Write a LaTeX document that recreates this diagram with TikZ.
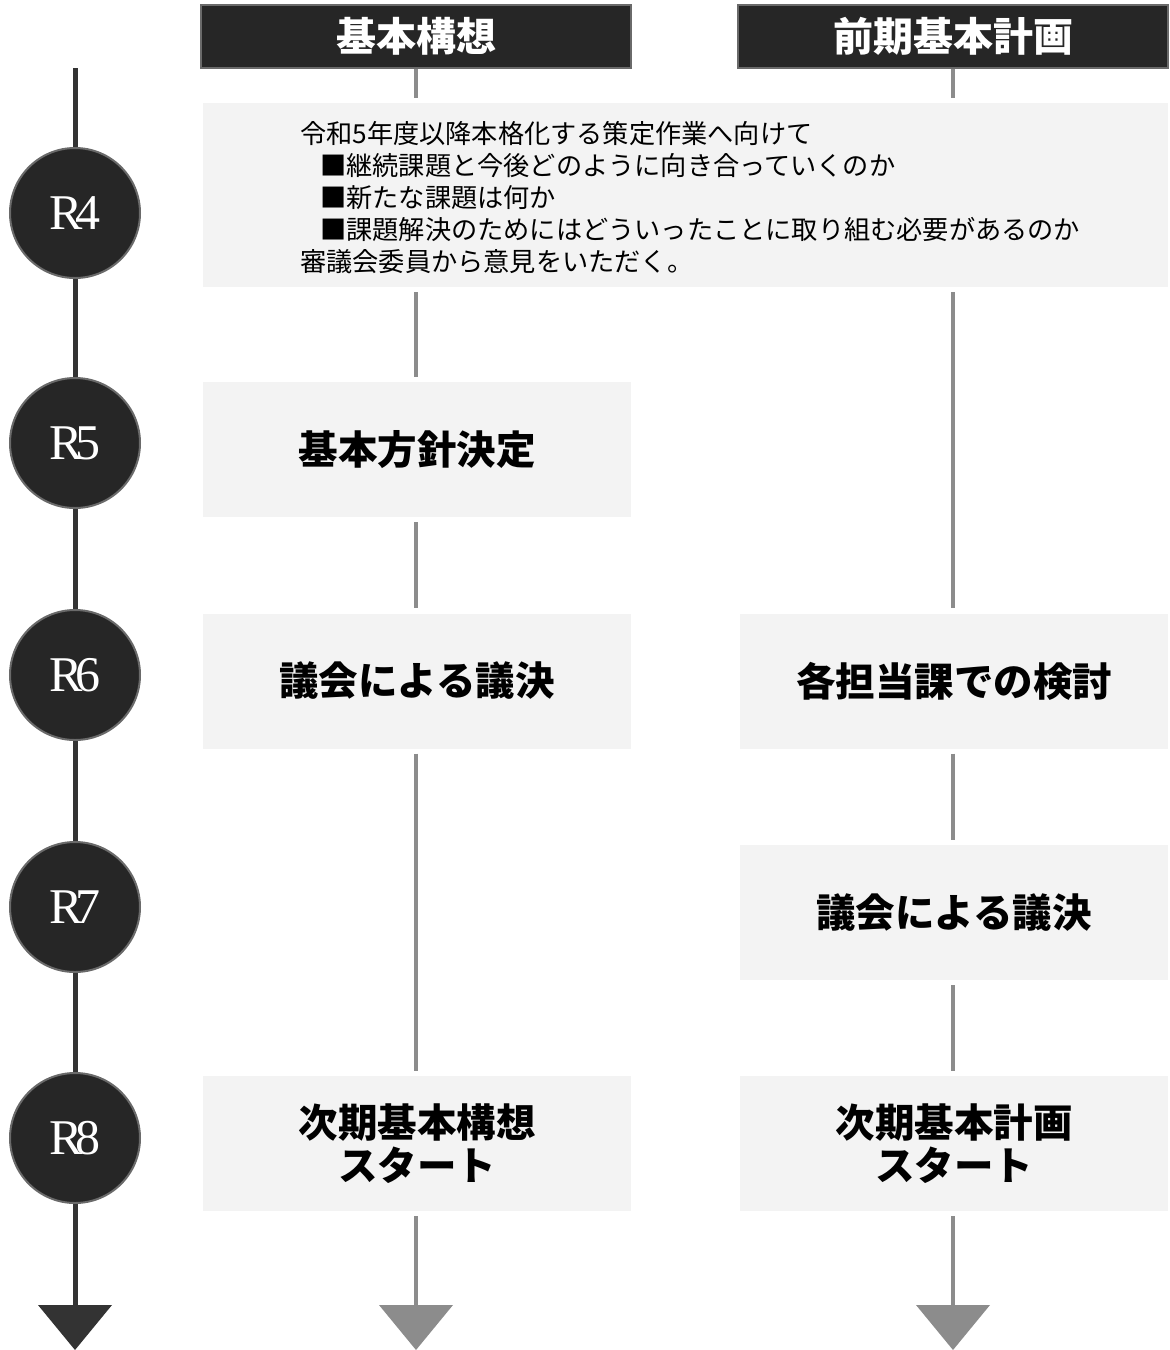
\documentclass[tikz,border=0pt]{standalone}
\usepackage{fontspec}
\newfontfamily\jp{Noto Sans CJK JP}
\newfontfamily\serifr{Liberation Serif}
\definecolor{darkfill}{HTML}{262626}
\definecolor{darkedge}{HTML}{6A6A6A}
\definecolor{tline}{HTML}{333333}
\definecolor{gline}{HTML}{8C8C8C}
\definecolor{boxfill}{HTML}{F3F3F3}
\tikzset{
  hdr/.style={draw=darkedge, line width=1.2pt, fill=darkfill, text=white, minimum width=430pt, minimum height=63pt, inner sep=0pt, font=\jp\bfseries\fontsize{40}{48}\selectfont},
  stagebox/.style={fill=boxfill, minimum width=428pt, minimum height=135pt, inner sep=0pt, align=center, font=\jp\bfseries\fontsize{39.5}{43}\selectfont},
  yearc/.style={circle, draw=darkedge, line width=2pt, fill=darkfill, text=white, minimum size=130pt, inner sep=0pt, font=\serifr\fontsize{50}{50}\selectfont},
  tl/.style={draw=tline, line width=5pt},
  gl/.style={draw=gline, line width=4pt, shorten <=5pt, shorten >=5pt},
}
\begin{document}
\begin{tikzpicture}[x=1pt, y=-1pt]
\useasboundingbox (0,0) rectangle (1170,1350);
% headers
\node[hdr] (h1) at (416,36.5) {基本構想};
\node[hdr] (h2) at (953,36.5) {前期基本計画};
% big box R4
\node[stagebox, minimum width=965pt, minimum height=184pt] (b4) at (685.5,195) {};
\node[anchor=west, align=left, inner sep=0pt, font=\jp\fontsize{26.2}{32}\selectfont] (t4) at (300,198) {令和5年度以降本格化する策定作業へ向けて\\\hspace*{20pt}■継続課題と今後どのように向き合っていくのか\\\hspace*{20pt}■新たな課題は何か\\\hspace*{20pt}■課題解決のためにはどういったことに取り組む必要があるのか\\審議会委員から意見をいただく。};
% stage boxes
\node[stagebox] (b5a) at (417,449.5) {基本方針決定};
\node[stagebox] (b6a) at (417,681) {議会による議決};
\node[stagebox] (b6b) at (954,681) {各担当課での検討};
\node[stagebox] (b7b) at (954,912.5) {議会による議決};
\node[stagebox] (b8a) at (417,1143.5) {次期基本構想\\スタート};
\node[stagebox] (b8b) at (954,1143.5) {次期基本計画\\スタート};
% year circles
\node[yearc] (c4) at (75,213) {R\kern-0.13em4};
\node[yearc] (c5) at (75,443) {R\kern-0.13em5};
\node[yearc] (c6) at (75,675) {R\kern-0.13em6};
\node[yearc] (c7) at (75,907) {R\kern-0.13em7};
\node[yearc] (c8) at (75,1138) {R\kern-0.13em8};
% arrow coordinates
\coordinate (lt) at (75,68);
\coordinate (a1) at (75,1305);
\coordinate (a2) at (416,1305);
\coordinate (a3) at (953,1305);
% timeline
\draw[tl] (lt) -- (c4.north);
\draw[tl] (c4.south) -- (c5.north);
\draw[tl] (c5.south) -- (c6.north);
\draw[tl] (c6.south) -- (c7.north);
\draw[tl] (c7.south) -- (c8.north);
\draw[tl] (c8.south) -- ([yshift=-1pt]a1);
\fill[tline] (a1) ++(-37,0) -- ++(74,0) -- ++(-37,45) -- cycle;
% column 1
\draw[gl, shorten <=0pt] (h1.south) -- (h1.south |- b4.north);
\draw[gl] (h1.south |- b4.south) -- (b5a.north -| h1.south);
\draw[gl] (b5a.south -| h1.south) -- (b6a.north -| h1.south);
\draw[gl] (b6a.south -| h1.south) -- (b8a.north -| h1.south);
\draw[gl, shorten >=0pt] (b8a.south -| h1.south) -- (a2);
\fill[gline] (a2) ++(-37,0) -- ++(74,0) -- ++(-37,45) -- cycle;
% column 2
\draw[gl, shorten <=0pt] (h2.south) -- (h2.south |- b4.north);
\draw[gl] (h2.south |- b4.south) -- (b6b.north -| h2.south);
\draw[gl] (b6b.south -| h2.south) -- (b7b.north -| h2.south);
\draw[gl] (b7b.south -| h2.south) -- (b8b.north -| h2.south);
\draw[gl, shorten >=0pt] (b8b.south -| h2.south) -- (a3);
\fill[gline] (a3) ++(-37,0) -- ++(74,0) -- ++(-37,45) -- cycle;
\end{tikzpicture}
\end{document}
